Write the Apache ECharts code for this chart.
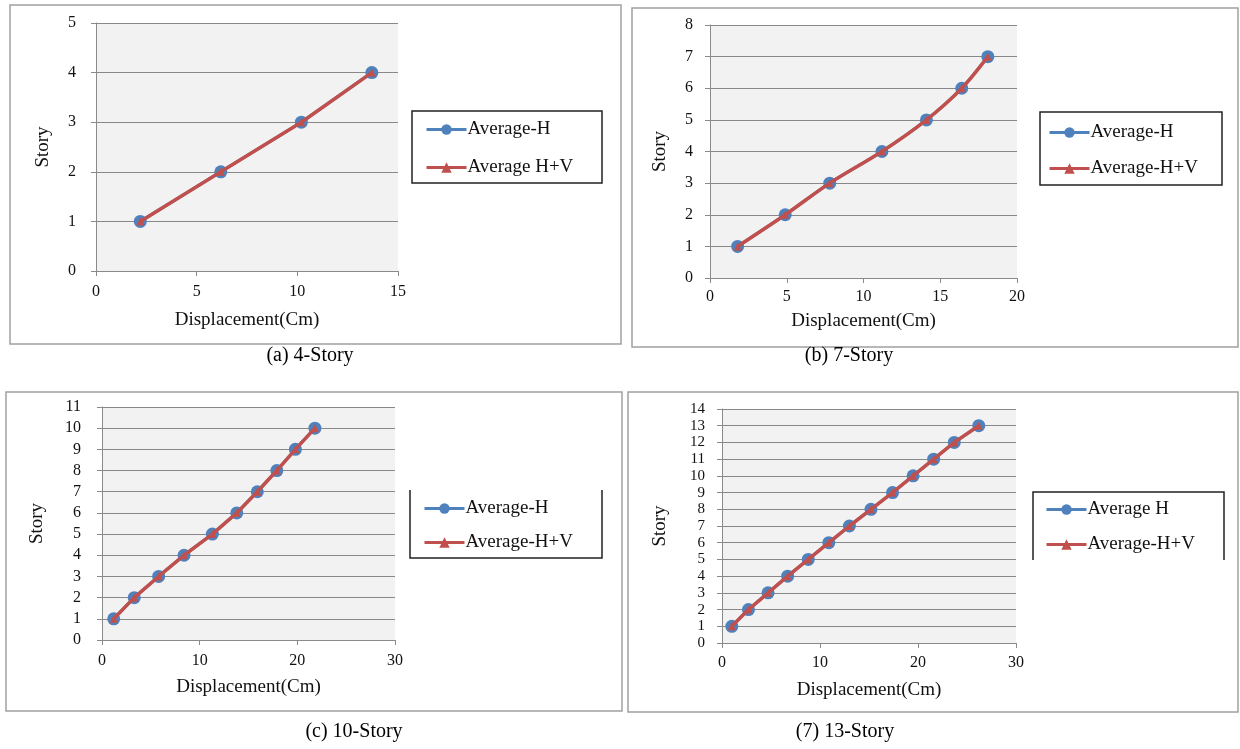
<!DOCTYPE html>
<html>
<head>
<meta charset="utf-8">
<script src="https://cdn.jsdelivr.net/npm/echarts@6/dist/echarts.min.js"></script>
<style>
html,body{margin:0;padding:0;background:#fff;}
#main{width:1240px;height:749px;}
</style>
</head>
<body>
<div id="main"></div>
<script>
// 4-Story
var story4 = [1, 2, 3, 4];
var dispH4 = [2.2, 6.2, 10.2, 13.7];
var dispHV4 = [2.2, 6.2, 10.2, 13.7];
// 7-Story
var story7 = [1, 2, 3, 4, 5, 6, 7];
var dispH7 = [1.8, 4.9, 7.8, 11.2, 14.1, 16.4, 18.1];
var dispHV7 = [1.8, 4.9, 7.8, 11.2, 14.1, 16.4, 18.1];
// 10-Story
var story10 = [1, 2, 3, 4, 5, 6, 7, 8, 9, 10];
var dispH10 = [1.2, 3.3, 5.8, 8.4, 11.3, 13.8, 15.9, 17.9, 19.8, 21.8];
var dispHV10 = [1.2, 3.3, 5.8, 8.4, 11.3, 13.8, 15.9, 17.9, 19.8, 21.8];
// 13-Story
var story13 = [1, 2, 3, 4, 5, 6, 7, 8, 9, 10, 11, 12, 13];
var dispH13 = [1.0, 2.7, 4.7, 6.7, 8.8, 10.9, 13.0, 15.2, 17.4, 19.5, 21.6, 23.7, 26.2];
var dispHV13 = [1.0, 2.7, 4.7, 6.7, 8.8, 10.9, 13.0, 15.2, 17.4, 19.5, 21.6, 23.7, 26.2];

// legend names / captions
var legend4 = ['Average-H', 'Average H+V'];
var legend7 = ['Average-H', 'Average-H+V'];
var legend10 = ['Average-H', 'Average-H+V'];
var legend13 = ['Average H', 'Average-H+V'];
var captions = ['(a) 4-Story', '(b) 7-Story', '(c) 10-Story', '(7) 13-Story'];

var FONT = 'Liberation Serif';
var BLUE = '#4f81bd';
var RED = '#c0504d';
var AXIS_GRAY = '#8a8a8a';
var TXT = '#111';

function pairs(xs, ys){
    var out = [];
    for(var i=0;i<xs.length;i++){
        out.push([xs[i], ys[i]]);
    }
    return out;
}

// layout of each panel
var panels = [
    {grid:{left:96, top:23, width:302, height:248}, xMax:15, xInt:5, yMax:5, yFont:16,
     xGap:40, yGap:43, xMargin:13, yMargin:20, legend:{left:425, top:120, gap:19}, names:legend4,
     h:pairs(dispH4, story4), hv:pairs(dispHV4, story4), smooth:false},
    {grid:{left:710, top:25, width:307, height:253}, xMax:20, xInt:5, yMax:8, yFont:16,
     xGap:34, yGap:40, xMargin:11, yMargin:17, legend:{left:1048, top:123, gap:17}, names:legend7,
     h:pairs(dispH7, story7), hv:pairs(dispHV7, story7), smooth:0.3},
    {grid:{left:102, top:407, width:293, height:233}, xMax:30, xInt:10, yMax:11, yFont:16,
     xGap:38, yGap:55, xMargin:13, yMargin:21, legend:{left:423, top:499, gap:15}, names:legend10,
     h:pairs(dispH10, story10), hv:pairs(dispHV10, story10), smooth:false},
    {grid:{left:722, top:409, width:294, height:234}, xMax:30, xInt:10, yMax:14, yFont:15,
     xGap:38, yGap:52, xMargin:12, yMargin:17, legend:{left:1045, top:500, gap:16}, names:legend13,
     h:pairs(dispH13, story13), hv:pairs(dispHV13, story13), smooth:false}
];

var grids = [], xAxes = [], yAxes = [], series = [], legends = [];

for(var k=0;k<panels.length;k++){
    var p = panels[k];
    grids.push({
        left:p.grid.left, top:p.grid.top, width:p.grid.width, height:p.grid.height,
        show:true, backgroundColor:'#f2f2f2', borderWidth:0
    });
    xAxes.push({
        gridIndex:k, type:'value', min:0, max:p.xMax, interval:p.xInt,
        name:'Displacement(Cm)', nameLocation:'middle', nameGap:p.xGap,
        nameTextStyle:{fontFamily:FONT, fontSize:19, color:TXT},
        axisLine:{show:true, lineStyle:{color:AXIS_GRAY, width:1}},
        axisTick:{show:true, inside:false, length:5, lineStyle:{color:AXIS_GRAY}},
        axisLabel:{fontFamily:FONT, fontSize:16, color:TXT, margin:p.xMargin},
        splitLine:{show:false}
    });
    yAxes.push({
        gridIndex:k, type:'value', min:0, max:p.yMax, interval:1,
        name:'Story', nameLocation:'middle', nameGap:p.yGap, nameRotate:90,
        nameTextStyle:{fontFamily:FONT, fontSize:19, color:TXT},
        axisLine:{show:true, lineStyle:{color:AXIS_GRAY, width:1}},
        axisTick:{show:true, length:5, lineStyle:{color:AXIS_GRAY}},
        axisLabel:{fontFamily:FONT, fontSize:p.yFont, color:TXT, margin:p.yMargin},
        splitLine:{show:true, lineStyle:{color:'#888', width:1}}
    });
    series.push({
        name:p.names[0], type:'line', xAxisIndex:k, yAxisIndex:k,
        data:p.h, smooth:p.smooth, symbol:'circle', symbolSize:13,
        lineStyle:{color:BLUE, width:3}, itemStyle:{color:BLUE},
        z:2
    });
    series.push({
        name:p.names[1], type:'line', xAxisIndex:k, yAxisIndex:k,
        data:p.hv, smooth:p.smooth, symbol:'triangle', symbolSize:8,
        lineStyle:{color:RED, width:3.5}, itemStyle:{color:RED},
        z:3
    });
    legends.push({
        orient:'vertical', left:p.legend.left, top:p.legend.top, padding:0,
        itemWidth:40, itemHeight:13, itemGap:p.legend.gap,
        lineStyle:{width:3},
        textStyle:{fontFamily:FONT, fontSize:19, color:TXT, padding:[0,0,0,-4]},
        data:p.names, selectedMode:false
    });
}

// captions under each panel
var titles = [
    {text:captions[0], left:310, top:346},
    {text:captions[1], left:849, top:346},
    {text:captions[2], left:354, top:722},
    {text:captions[3], left:845, top:722}
].map(function(t){
    return {
        text:t.text, left:t.left, top:t.top, textAlign:'center', padding:0,
        textStyle:{fontFamily:FONT, fontSize:20, fontWeight:'normal', color:'#000'}
    };
});

// frames around panels and legends
var frameStyle = {stroke:'#a0a0a0', lineWidth:1.5, fill:'none'};
var boxStyle = {stroke:'#222', lineWidth:1.5, fill:'none'};
var graphics = [
    {type:'rect', shape:{x:10, y:5, width:611, height:339}, style:frameStyle, silent:true},
    {type:'rect', shape:{x:632, y:8, width:606, height:339}, style:frameStyle, silent:true},
    {type:'rect', shape:{x:6, y:392, width:616, height:319}, style:frameStyle, silent:true},
    {type:'rect', shape:{x:628, y:392, width:610, height:320}, style:frameStyle, silent:true},
    {type:'rect', shape:{x:412, y:111, width:190, height:72}, style:boxStyle, silent:true},
    {type:'rect', shape:{x:1040, y:112, width:182, height:73}, style:boxStyle, silent:true},
    {type:'polyline', shape:{points:[[410,490],[410,558],[602,558],[602,490]]}, style:boxStyle, silent:true},
    {type:'polyline', shape:{points:[[1033,560],[1033,492],[1224,492],[1224,560]]}, style:boxStyle, silent:true}
];

var chart = echarts.init(document.getElementById('main'), null, {renderer:'canvas'});
chart.setOption({
    animation:false,
    backgroundColor:'#fff',
    title:titles,
    legend:legends,
    grid:grids,
    xAxis:xAxes,
    yAxis:yAxes,
    series:series,
    graphic:graphics
});
</script>
</body>
</html>
